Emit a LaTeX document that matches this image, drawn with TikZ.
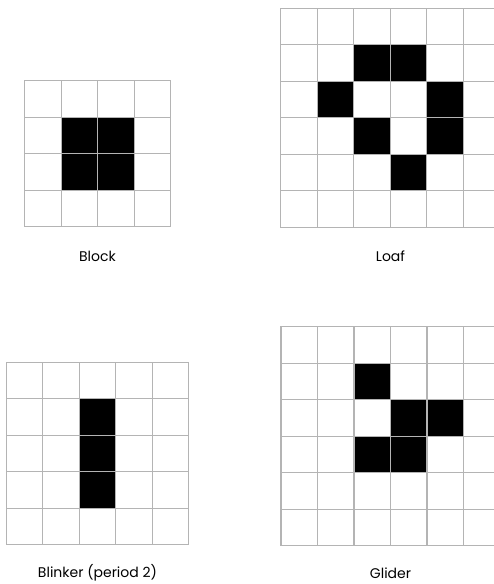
\documentclass[tikz,border=0pt]{standalone}
\usepackage{fontspec}
\setmainfont{Poppins}
\usepackage{tikz}
\definecolor{gridgray}{HTML}{B4B4B4}

% n x n board of 36.5pt cells, lines only
\newcommand{\lifeboard}[1]{%
  \foreach \i in {0,...,#1} {
    \draw[grid] (36.5*\i,0) -- (36.5*\i,36.5*#1);
    \draw[grid] (0,36.5*\i) -- (36.5*#1,36.5*\i);
  }}

\begin{document}
\begin{tikzpicture}[
  x=1pt, y=-1pt,
  font=\fontsize{14}{16}\selectfont,
  grid/.style={draw=gridgray, line width=1.3pt, line cap=rect},
  alive/.style={fill=black},
  caption/.style={inner sep=0pt, anchor=center}
]
\useasboundingbox (0,0) rectangle (493,584);
% Block
\begin{scope}[shift={(24.7,80.7)}]
  \foreach \c/\r in {1/1,2/1,1/2,2/2}
    \fill[alive] (36.5*\c,36.5*\r) rectangle ++(36.5,36.5);
  \lifeboard{4}
\end{scope}
% Loaf
\begin{scope}[shift={(280.7,8.3)}]
  \foreach \c/\r in {2/1,3/1,1/2,4/2,2/3,4/3,3/4}
    \fill[alive] (36.5*\c,36.5*\r) rectangle ++(36.5,36.5);
  \lifeboard{6}
\end{scope}
% Blinker
\begin{scope}[shift={(6.3,362.3)}]
  \foreach \c/\r in {2/1,2/2,2/3}
    \fill[alive] (36.5*\c,36.5*\r) rectangle ++(36.5,36.5);
  \lifeboard{5}
\end{scope}
% Glider
\begin{scope}[shift={(281,326.7)}]
  \foreach \c/\r in {2/1,3/2,4/2,2/3,3/3}
    \fill[alive] (36.5*\c,36.5*\r) rectangle ++(36.5,36.5);
  \lifeboard{6}
\end{scope}
\node[caption] (block) at (97.5,256) {Block};
\node[caption] (loaf) at (390.5,256) {Loaf};
\node[caption] (blinker) at (97.5,573) {Blinker (period 2)};
\node[caption] (glider) at (390.5,573) {Glider};
\end{tikzpicture}
\end{document}
